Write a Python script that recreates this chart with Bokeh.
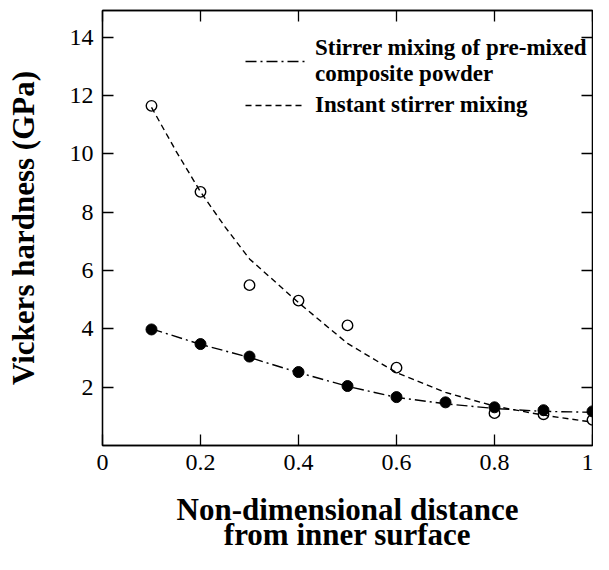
from bokeh.plotting import figure
from bokeh.models import Range1d, LinearAxis, FixedTicker, Legend, LegendItem
from bokeh.embed import file_html
from bokeh.resources import INLINE

# --- data ---
instant_x = [0.1, 0.2, 0.3, 0.4, 0.5, 0.6, 0.8, 0.9, 1.0]
instant_y = [11.65, 8.7, 5.5, 4.97, 4.12, 2.67, 1.11, 1.07, 0.88]
premix_x = [0.1, 0.2, 0.3, 0.4, 0.5, 0.6, 0.7, 0.8, 0.9, 1.0]
premix_y = [3.98, 3.48, 3.05, 2.52, 2.04, 1.66, 1.48, 1.31, 1.21, 1.17]

# trend curves as drawn in the reference
instant_fit_x = [0.1, 0.15, 0.2, 0.25, 0.3, 0.4, 0.5, 0.6, 0.7, 0.8, 0.9, 1.0]
instant_fit_y = [11.6, 10.1, 8.7, 7.5, 6.4, 4.9, 3.5, 2.5, 1.82, 1.35, 1.04, 0.8]
premix_fit_x = [0.1, 0.2, 0.3, 0.4, 0.5, 0.6, 0.7, 0.8, 0.9, 1.0]
premix_fit_y = [4.0, 3.47, 3.02, 2.5, 2.03, 1.65, 1.43, 1.27, 1.17, 1.14]

x_ticks = [0, 0.2, 0.4, 0.6, 0.8, 1.0]
x_tick_labels = ["0", "0.2", "0.4", "0.6", "0.8", "1"]
y_ticks = [2, 4, 6, 8, 10, 12, 14]

label_premix = "Stirrer mixing of pre-mixed\ncomposite powder"
label_instant = "Instant stirrer mixing"
x_title = "Non-dimensional distance\nfrom inner surface"
y_title = "Vickers hardness (GPa)"

FONT = "Liberation Serif"

p = figure(width=593, height=554, output_backend="svg", toolbar_location=None,
           x_range=Range1d(0, 1.0), y_range=Range1d(0, 14.92),
           min_border_left=102, min_border_right=1, min_border_top=10,
           min_border_bottom=108, x_axis_location="below", y_axis_location="left")
p.grid.visible = False
p.outline_line_color = "black"
p.outline_line_width = 1.3
p.background_fill_color = "white"
p.border_fill_color = "white"

def style_axis(ax):
    ax.axis_line_color = "black"
    ax.axis_line_width = 1.3
    ax.major_tick_in = 11
    ax.major_tick_out = 0
    ax.major_tick_line_width = 1.3
    ax.minor_tick_line_color = None
    ax.major_label_text_font = FONT
    ax.major_label_text_font_size = "24px"
    ax.major_label_text_color = "black"
    ax.axis_label_text_font = FONT
    ax.axis_label_text_font_size = "31px"
    ax.axis_label_text_font_style = "bold"
    ax.axis_label_text_color = "black"

xa = p.xaxis[0]
style_axis(xa)
xa.ticker = FixedTicker(ticks=x_ticks)
xa.major_label_overrides = {t: l for t, l in zip(x_ticks, x_tick_labels)}
xa.major_label_standoff = 9
xa.axis_label = x_title
xa.axis_label_standoff = 19
xa.axis_label_text_line_height = 0.72

ya = p.yaxis[0]
style_axis(ya)
ya.ticker = FixedTicker(ticks=y_ticks)
ya.major_label_standoff = 9
ya.axis_label = y_title
ya.axis_label_standoff = 26

top = LinearAxis(ticker=FixedTicker(ticks=x_ticks))
style_axis(top)
top.major_label_overrides = {t: "" for t in x_ticks}
p.add_layout(top, "above")
right = LinearAxis(ticker=FixedTicker(ticks=y_ticks))
style_axis(right)
right.major_label_overrides = {t: "" for t in y_ticks}
p.add_layout(right, "right")

r_premix = p.line(premix_fit_x, premix_fit_y, line_color="black", line_width=1.4,
                  line_dash="11 4 2 4")
r_instant = p.line(instant_fit_x, instant_fit_y, line_color="black", line_width=1.4,
                   line_dash="6 4")
p.scatter(premix_x, premix_y, marker="circle", size=11, fill_color="black",
          line_color="black")
p.scatter(instant_x, instant_y, marker="circle", size=10.5, fill_color=None,
          line_color="black", line_width=1.4)

legend = Legend(items=[LegendItem(label=label_premix, renderers=[r_premix]),
                       LegendItem(label=label_instant, renderers=[r_instant])],
                location=(143, 327), orientation="vertical",
                padding=0, margin=0, spacing=5,
                glyph_width=60, label_standoff=10,
                label_text_font=FONT, label_text_font_size="23px",
                label_text_font_style="bold", label_text_color="black",
                background_fill_alpha=0, border_line_alpha=0)
p.add_layout(legend, "center")

open("out.html", "w").write(file_html(p, INLINE))
